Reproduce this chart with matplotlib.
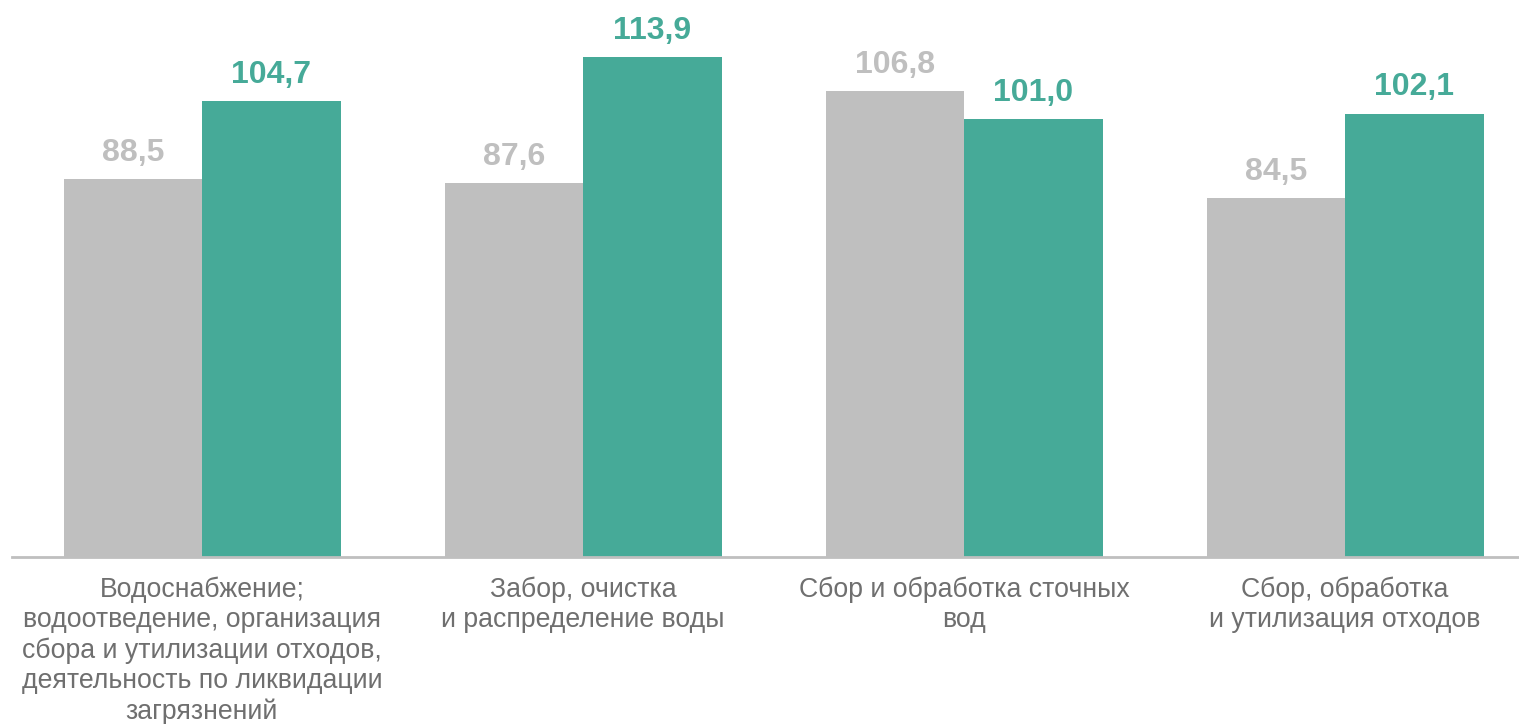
import numpy as np
import matplotlib.pyplot as plt
from matplotlib.transforms import offset_copy

plt.rcParams['font.family'] = ['Liberation Sans', 'DejaVu Sans']

categories = [
    "Водоснабжение;\nводоотведение, организация\nсбора и утилизации отходов,\nдеятельность по ликвидации\nзагрязнений",
    "Забор, очистка\nи распределение воды",
    "Сбор и обработка сточных\nвод",
    "Сбор, обработка\nи утилизация отходов",
]
prev_values = [88.5, 87.6, 106.8, 84.5]
curr_values = [104.7, 113.9, 101.0, 102.1]

GRAY = "#bfbfbf"
TEAL = "#46aa98"
TEXT = "#6f6f6f"

W, H, DPI = 1519, 724, 100
fig = plt.figure(figsize=(W / DPI, H / DPI), dpi=DPI)

# axes geometry in pixels
left_px, base_px, cat_px = 11.5, 557, 381
ax = fig.add_axes([left_px / W, (H - base_px) / H, (W - left_px) / W, base_px / H])

px_per_unit = 4.815
y0 = 10
ax.set_ylim(y0, y0 + base_px / px_per_unit)
ax.set_xlim(-0.5, -0.5 + (W - left_px) / cat_px)

x = np.arange(len(categories))
bw = 138.5 / cat_px

ax.bar(x - bw / 2, prev_values, width=bw, color=GRAY, bottom=0)
ax.bar(x + bw / 2, curr_values, width=bw, color=TEAL, bottom=0)

for xi, v in zip(x - bw / 2, prev_values):
    ax.annotate(f"{v:.1f}".replace(".", ","), (xi, v), xytext=(0, 13), textcoords="offset points",
                ha="center", va="baseline", fontsize=23, fontweight="bold", color=GRAY)
for xi, v in zip(x + bw / 2, curr_values):
    ax.annotate(f"{v:.1f}".replace(".", ","), (xi, v), xytext=(0, 13), textcoords="offset points",
                ha="center", va="baseline", fontsize=23, fontweight="bold", color=TEAL)

# category labels under the axis
trans = offset_copy(ax.get_xaxis_transform(), fig=fig, x=0, y=-20, units="dots")
for xi, lab in zip(x, categories):
    ax.text(xi, 0, lab, transform=trans, ha="center", va="top", fontsize=19.2,
            color=TEXT, linespacing=1.2)

for s in ["top", "right", "left"]:
    ax.spines[s].set_visible(False)
ax.spines["bottom"].set_color(GRAY)
ax.spines["bottom"].set_linewidth(2)
ax.set_xticks([])
ax.set_yticks([])
ax.patch.set_alpha(0)

fig.savefig("out.png", dpi=DPI)
